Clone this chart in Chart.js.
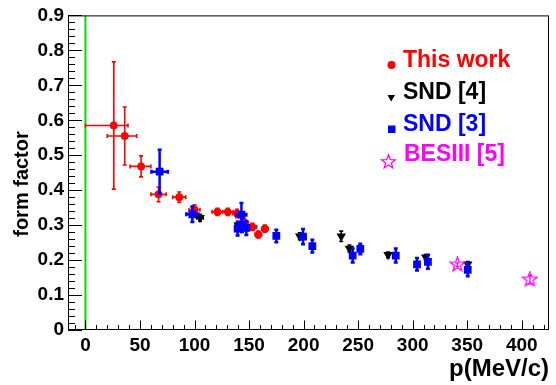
<!DOCTYPE html>
<html>
<head>
<meta charset="utf-8">
<script src="https://cdn.jsdelivr.net/npm/chart.js@4"></script>
<style>
  html, body { margin: 0; padding: 0; background: #fff; }
  #wrap { width: 556px; height: 385px; }
</style>
</head>
<body>
<div id="wrap"><canvas id="ff"></canvas></div>
<script>
// This work: momentum p (MeV/c), form factor, errors
const thisWorkP    = [26, 36, 51, 67, 86, 100, 121, 130.5, 139, 145.5, 153, 158.5, 164.5];
const thisWorkFF   = [0.585, 0.555, 0.468, 0.388, 0.380, 0.344, 0.338, 0.338, 0.333, 0.307, 0.295, 0.273, 0.290];
const thisWorkErrY = [0.182, 0.083, 0.030, 0.021, 0.015, 0.014, 0.010, 0.010, 0.012, 0.012, 0.010, 0.010, 0.010];
const thisWorkErrXLo = [26, 16, 10, 7, 6, 5, 5, 5, 4, 4, 4, 3, 3];
const thisWorkErrXHi = [13, 11, 9, 7, 6, 5, 5, 5, 4, 4, 4, 3, 3];

// SND [4]
const snd4P    = [105, 140, 196.5, 234.5, 242, 277.5, 312, 350.5];
const snd4FF   = [0.321, 0.300, 0.268, 0.268, 0.233, 0.215, 0.208, 0.188];
const snd4ErrY = [0.010, 0.010, 0.010, 0.015, 0.010, 0.008, 0.008, 0.008];
const snd4ErrX = [3, 0, 0, 0, 0, 0, 0, 0];

// SND [3]
const snd3P    = [68, 98, 143, 139.5, 143.5, 147.5, 175, 199.5, 208, 245, 252, 284.5, 304, 314, 350.5];
const snd3FF   = [0.453, 0.331, 0.330, 0.290, 0.300, 0.292, 0.269, 0.267, 0.240, 0.213, 0.232, 0.213, 0.188, 0.195, 0.172];
const snd3ErrY = [0.063, 0.022, 0.033, 0.020, 0.020, 0.020, 0.018, 0.022, 0.018, 0.020, 0.015, 0.020, 0.018, 0.020, 0.018];
const snd3ErrX = [7.5, 5.5, 4.5, 0, 0, 0, 0, 0, 0, 0, 0, 0, 0, 0, 0];

// BESIII [5]
const besP    = [341, 407.5];
const besFF   = [0.187, 0.144];
const besErrY = [0.005, 0.012];

const xTickValues = [0, 50, 100, 150, 200, 250, 300, 350, 400];
const yTickValues = [0, 0.1, 0.2, 0.3, 0.4, 0.5, 0.6, 0.7, 0.8, 0.9];

const FONT = '"Liberation Sans", Arial, Helvetica, sans-serif';

function points(xs, ys) {
  return xs.map((x, i) => ({ x: x, y: ys[i] }));
}

// open five-pointed star used as a point style
function makeStar(size, color) {
  const c = document.createElement('canvas');
  c.width = size; c.height = size;
  const g = c.getContext('2d');
  strokeStar(g, size / 2, size / 2, size / 2 - 1, (size / 2 - 1) * 0.42, color, 1.3);
  return c;
}

function strokeStar(g, cx, cy, ro, ri, color, lw) {
  g.beginPath();
  for (let i = 0; i < 10; i++) {
    const r = i % 2 ? ri : ro;
    const a = -Math.PI / 2 + i * Math.PI / 5;
    const px = cx + r * Math.cos(a), py = cy + r * Math.sin(a);
    if (i === 0) g.moveTo(px, py); else g.lineTo(px, py);
  }
  g.closePath();
  g.strokeStyle = color;
  g.lineWidth = lw;
  g.stroke();
}

const starImg = makeStar(17, '#ff00ff');

// error bars, drawn just under each data set's markers
const errorBars = {
  id: 'errorBars',
  beforeDatasetDraw(chart, args) {
    const ds = chart.data.datasets[args.index];
    if (!ds.err) return;
    const { ctx, scales: { x, y } } = chart;
    const e = ds.err;
    ctx.save();
    ctx.strokeStyle = ds.borderColor;
    ctx.lineWidth = e.width;
    ctx.beginPath();
    ds.data.forEach((pt, i) => {
      const px = x.getPixelForValue(pt.x), py = y.getPixelForValue(pt.y);
      const ey = e.y ? e.y[i] : 0;
      if (ey) {
        const t = y.getPixelForValue(pt.y + ey), b = y.getPixelForValue(pt.y - ey);
        ctx.moveTo(px, t); ctx.lineTo(px, b);
        ctx.moveTo(px - e.cap, t); ctx.lineTo(px + e.cap, t);
        ctx.moveTo(px - e.cap, b); ctx.lineTo(px + e.cap, b);
      }
      const lo = e.xLo ? e.xLo[i] : 0, hi = e.xHi ? e.xHi[i] : 0;
      if (lo || hi) {
        const l = x.getPixelForValue(pt.x - lo), r = x.getPixelForValue(pt.x + hi);
        ctx.moveTo(l, py); ctx.lineTo(r, py);
        ctx.moveTo(l, py - e.cap); ctx.lineTo(l, py + e.cap);
        ctx.moveTo(r, py - e.cap); ctx.lineTo(r, py + e.cap);
      }
    });
    ctx.stroke();
    ctx.restore();
  }
};

// frame, inward ticks, p = 0 line, axis titles and legend
const rootFrame = {
  id: 'rootFrame',
  beforeDatasetsDraw(chart) {
    const { ctx, chartArea: a, scales: { x } } = chart;
    const gx = x.getPixelForValue(0);
    ctx.save();
    ctx.strokeStyle = '#00dd00';
    ctx.lineWidth = 2;
    ctx.beginPath();
    ctx.moveTo(gx, a.top); ctx.lineTo(gx, a.bottom);
    ctx.stroke();
    ctx.restore();
  },
  afterDraw(chart) {
    const { ctx, chartArea: a, scales: { x, y } } = chart;
    ctx.save();
    ctx.strokeStyle = '#000';
    ctx.lineWidth = 1;
    ctx.strokeRect(a.left + 0.5, a.top + 0.5, a.right - a.left - 1, a.bottom - a.top - 1);

    ctx.beginPath();
    for (let v = -10; v <= x.max; v += 10) {
      const px = Math.round(x.getPixelForValue(v)) + 0.5;
      if (px < a.left) continue;
      const len = v % 50 === 0 ? 9.5 : 5;
      ctx.moveTo(px, a.bottom); ctx.lineTo(px, a.bottom - len);
    }
    for (let k = 0; k <= 45; k++) {
      const py = Math.round(y.getPixelForValue(k * 0.02)) + 0.5;
      const len = k % 5 === 0 ? 14 : 7;
      ctx.moveTo(a.left, py); ctx.lineTo(a.left + len, py);
    }
    ctx.stroke();

    // axis titles
    ctx.fillStyle = '#000';
    ctx.font = 'bold 24px ' + FONT;
    ctx.textAlign = 'right';
    ctx.textBaseline = 'middle';
    ctx.fillText('p(MeV/c)', a.right, 369);
    ctx.save();
    ctx.translate(22, 184);
    ctx.rotate(-Math.PI / 2);
    ctx.textAlign = 'center';
    ctx.font = 'bold 20px ' + FONT;
    ctx.fillText('form factor', 0, 0);
    ctx.restore();

    // legend
    ctx.font = 'bold 23px ' + FONT;
    ctx.textAlign = 'left';
    ctx.fillStyle = '#ff0000';
    ctx.beginPath(); ctx.arc(391.5, 65, 4, 0, Math.PI * 2); ctx.fill();
    ctx.fillText('This work', 403, 61);

    ctx.fillStyle = '#000';
    ctx.beginPath();
    ctx.moveTo(387.5, 95); ctx.lineTo(395, 95); ctx.lineTo(391.2, 101.5); ctx.closePath();
    ctx.fill();
    ctx.fillText('SND [4]', 403, 93);

    ctx.fillStyle = '#0000ff';
    ctx.fillRect(388, 125.5, 7.5, 7.5);
    ctx.fillText('SND [3]', 403, 125);

    strokeStar(ctx, 388.5, 162, 7.2, 3, '#ff00ff', 1.2);
    ctx.fillStyle = '#ff00ff';
    ctx.fillText('BESIII [5]', 404, 155);
    ctx.restore();
  }
};

new Chart(document.getElementById('ff'), {
  type: 'scatter',
  data: {
    datasets: [
      {
        label: 'This work',
        data: points(thisWorkP, thisWorkFF),
        pointStyle: 'circle', pointRadius: 3.9,
        backgroundColor: '#ff0000', borderColor: '#ff0000', borderWidth: 0,
        err: { y: thisWorkErrY, xLo: thisWorkErrXLo, xHi: thisWorkErrXHi, width: 1.6, cap: 2 },
        order: 4
      },
      {
        label: 'SND [4]',
        data: points(snd4P, snd4FF),
        pointStyle: 'triangle', pointRotation: 180, pointRadius: 5.5,
        backgroundColor: '#000000', borderColor: '#000000', borderWidth: 0,
        err: { y: snd4ErrY, xLo: snd4ErrX, xHi: snd4ErrX, width: 1.6, cap: 2 },
        order: 3
      },
      {
        label: 'SND [3]',
        data: points(snd3P, snd3FF),
        pointStyle: 'rect', pointRadius: 5.5,
        backgroundColor: '#0000ff', borderColor: '#0000ff', borderWidth: 0,
        err: { y: snd3ErrY, xLo: snd3ErrX, xHi: snd3ErrX, width: 2.5, cap: 2 },
        order: 2
      },
      {
        label: 'BESIII [5]',
        data: points(besP, besFF),
        pointStyle: starImg,
        backgroundColor: '#ff00ff', borderColor: '#ff00ff', borderWidth: 0,
        err: { y: besErrY, width: 1.4, cap: 2 },
        order: 1
      }
    ]
  },
  options: {
    responsive: true,
    maintainAspectRatio: false,
    animation: false,
    layout: { padding: { top: 12, right: 7, left: 0, bottom: 0 } },
    plugins: { legend: { display: false }, tooltip: { enabled: false } },
    scales: {
      x: {
        type: 'linear', min: -16, max: 425,
        grid: { display: false, drawTicks: false },
        border: { display: false },
        afterBuildTicks: s => { s.ticks = xTickValues.map(v => ({ value: v })); },
        afterFit: s => { s.height = 55; },
        ticks: {
          padding: 4, maxRotation: 0, autoSkip: false,
          color: '#000', font: { family: FONT, size: 19, weight: 'bold' }
        }
      },
      y: {
        type: 'linear', min: 0, max: 0.9,
        grid: { display: false, drawTicks: false },
        border: { display: false },
        afterBuildTicks: s => { s.ticks = yTickValues.map(v => ({ value: v })); },
        afterFit: s => { s.width = 68; },
        ticks: {
          padding: 4, autoSkip: false,
          color: '#000', font: { family: FONT, size: 19, weight: 'bold' },
          callback: v => String(Math.round(v * 10) / 10)
        }
      }
    }
  },
  plugins: [errorBars, rootFrame]
});
</script>
</body>
</html>
